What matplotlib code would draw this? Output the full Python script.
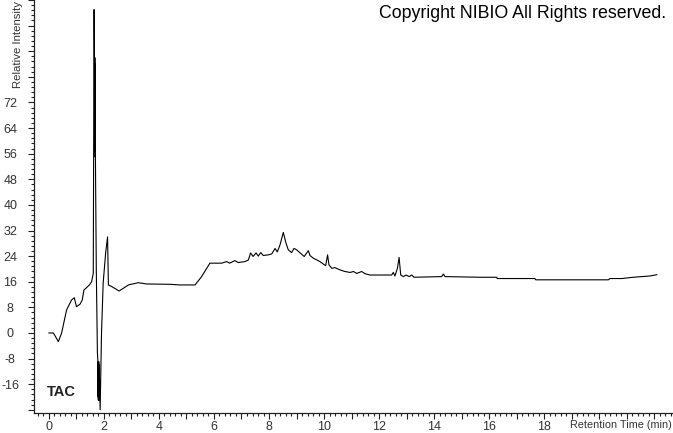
import numpy as np
import matplotlib.pyplot as plt
from matplotlib.ticker import MultipleLocator, FuncFormatter

plt.rcParams['font.family'] = ['Liberation Sans', 'DejaVu Sans']

# retention time (min) and relative intensity
t = [0.0, 0.16, 0.34, 0.46, 0.64, 0.82, 0.92, 1.0, 1.13, 1.21, 1.27, 1.47, 1.55,
     1.61, 1.64, 1.652, 1.66, 1.668, 1.675, 1.682, 1.69, 1.72, 1.76, 1.78, 1.785,
     1.79, 1.795, 1.80, 1.805, 1.81, 1.815, 1.82, 1.825, 1.83, 1.86, 1.91, 1.97,
     2.06, 2.13, 2.16, 2.28, 2.55, 2.89, 3.25, 3.55, 4.4, 4.76, 5.31, 5.55, 5.85,
     6.28, 6.46, 6.57, 6.76, 6.88, 7.13, 7.25, 7.33, 7.42, 7.53, 7.61, 7.70, 7.79,
     7.98, 8.10, 8.22, 8.30, 8.40, 8.52, 8.62, 8.70, 8.82, 8.91, 9.0, 9.13, 9.28,
     9.43, 9.49, 9.62, 9.74, 9.85, 9.98, 10.06, 10.13, 10.18, 10.28, 10.40, 10.58,
     10.76, 10.95, 11.07, 11.19, 11.37, 11.49, 11.67, 12.04, 12.46, 12.52, 12.58,
     12.67, 12.73, 12.79, 12.89, 12.98, 13.10, 13.19, 13.27, 14.28, 14.34, 14.40,
     15.67, 16.28, 16.30, 17.67, 17.70, 19.0, 20.34, 20.40, 20.83, 21.25, 21.85,
     22.1]
intensity = [0, 0, -2.7, 0, 7.2, 10.3, 11, 8.2, 9, 10.3, 13.4, 15, 16,
             18.6, 101, 86, 58, 86, 55, 84, 53, 20, -6, -9, -20,
             -9, -21, -10, -20, -9, -21, -10, -20, -12, -24, 0, 15.6,
             25, 30, 15, 14.5, 13.1, 15, 15.7, 15.3, 15.2, 15, 15, 17.6, 21.8,
             21.8, 22.3, 21.8, 22.6, 22, 22.3, 22.8, 25, 23.9, 25, 24, 25.1, 24.2,
             24.4, 24.7, 26.4, 25.3, 27.5, 31.4, 28, 26, 25.1, 26.4, 26, 25, 23.9,
             25.7, 24.2, 23.3, 22.8, 22.3, 21.5, 21, 24.4, 21.3, 20.2, 20.4, 19.7,
             19.2, 18.9, 19.2, 18.6, 19.2, 18.5, 18.1, 18.1, 18.1, 18.9, 17.8,
             20.2, 23.6, 18.1, 17.6, 18.1, 17.6, 18.1, 17.4, 17.6, 18.4, 17.6,
             17.4, 17.4, 17, 17, 16.6, 16.6, 16.6, 17, 17, 17.4, 17.8,
             18.2]

ytick_labels = list(range(-16, 73, 8))
xtick_labels = list(range(0, 19, 2))

fig = plt.figure(figsize=(6.73, 4.33), dpi=100)
ax = fig.add_axes([34 / 673, 20 / 433, 1 - 34 / 673, 1 - 20 / 433])
ax.plot(t, intensity, color='black', lw=0.8)

ax.set_xlim(-0.545, 22.69)
ax.set_ylim(-25, 104)
for s in ['top', 'right']:
    ax.spines[s].set_visible(False)
for s in ['left', 'bottom']:
    ax.spines[s].set_color('#222222')
    ax.spines[s].set_linewidth(0.9)

ax.xaxis.set_major_locator(MultipleLocator(1))
ax.xaxis.set_minor_locator(MultipleLocator(0.2))
ax.yaxis.set_major_locator(MultipleLocator(8))
ax.yaxis.set_minor_locator(MultipleLocator(1.6))
ax.xaxis.set_major_formatter(FuncFormatter(
    lambda v, p: f'{int(round(v))}' if round(v) in xtick_labels and abs(v - round(v)) < 1e-6 else ''))
ax.yaxis.set_major_formatter(FuncFormatter(
    lambda v, p: f'{int(round(v))}' if round(v) in ytick_labels else ''))

ax.tick_params(axis='x', which='major', length=4, width=0.8, pad=2, labelsize=9,
               colors='#222222', labelcolor='#333333')
ax.tick_params(axis='x', which='minor', length=2, width=0.8, colors='#222222')
ax.tick_params(axis='y', which='major', length=4, width=0.8, pad=13, labelsize=9,
               colors='#222222', labelcolor='#333333')
ax.tick_params(axis='y', which='minor', length=2, width=0.8, colors='#222222')
for lbl in ax.get_yticklabels():
    lbl.set_horizontalalignment('center')

fig.text(18 / 673, 1 - 1 / 433, 'Relative Intensity', rotation=90, ha='center',
         va='top', fontsize=8.2, color='#333333')
fig.text(672 / 673, 1 - 425 / 433, 'Retention Time (min)', ha='right', va='center',
         fontsize=7.8, color='#333333')
fig.text(666 / 673, 1 - 14 / 433, 'Copyright NIBIO All Rights reserved.', ha='right',
         va='center', fontsize=12.8, color='black')
fig.text(47 / 673, 1 - 392 / 433, 'TAC', ha='left', va='center', fontsize=10.5,
         fontweight='bold', color='#222222')

fig.savefig('out.png', dpi=100)
